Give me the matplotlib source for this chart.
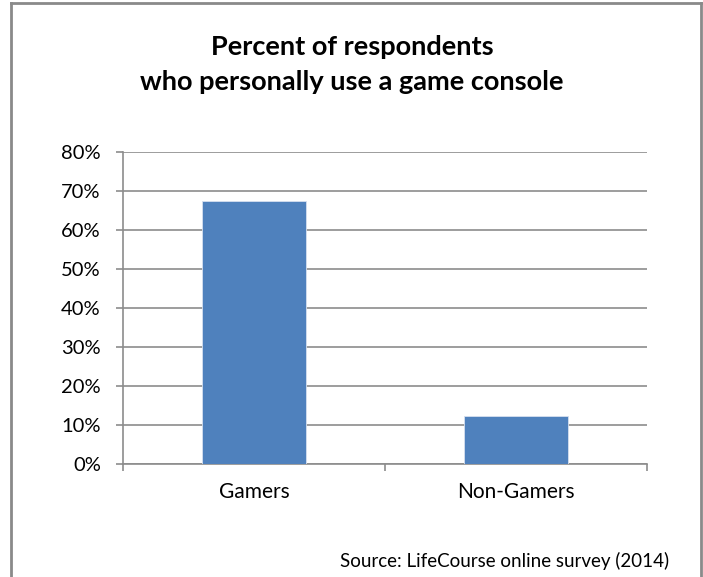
import matplotlib
matplotlib.use("Agg")
import matplotlib.pyplot as plt
from matplotlib.lines import Line2D
from matplotlib.ticker import FuncFormatter, MultipleLocator

categories = ["Gamers", "Non-Gamers"]
percent_use_console = [67.4, 12.3]
title_lines = ["Percent of respondents", "who personally use a game console"]
source_note = "Source: LifeCourse online survey (2014)"

plt.rcParams["font.family"] = ["Lato", "DejaVu Sans"]

W, H = 703, 577
fig = plt.figure(figsize=(W / 100, H / 100), dpi=100)

def fx(px):
    return px / W

def fy(py):
    return 1 - py / H

grid_gray = "#8c8c8c"
bar_blue = "#4f81bd"

ax = fig.add_axes([fx(123), fy(464), fx(647) - fx(123), fy(152) - fy(464)])
x = range(len(categories))
ax.bar(x, percent_use_console, width=0.4, color=bar_blue, edgecolor="#d6e0ef",
       linewidth=0.6, zorder=3)
ax.set_xlim(-0.5, len(categories) - 0.5)
ax.set_ylim(0, 80)
ax.yaxis.set_major_locator(MultipleLocator(10))
ax.yaxis.set_major_formatter(FuncFormatter(lambda v, _: f"{v:.0f}%"))
ax.grid(axis="y", color=grid_gray, linewidth=1.2, zorder=0)
ax.set_axisbelow(True)

for side in ("top", "right"):
    ax.spines[side].set_visible(False)
for side in ("left", "bottom"):
    ax.spines[side].set_color(grid_gray)
    ax.spines[side].set_linewidth(1.2)

ax.set_xticks(list(x))
ax.set_xticklabels(categories, fontsize=15)
ax.tick_params(axis="x", length=0, pad=13)
ax.set_xticks([-0.5, 0.5, 1.5], minor=True)
ax.tick_params(axis="x", which="minor", length=5, width=1.2, color=grid_gray)
ax.tick_params(axis="y", length=5, width=1.2, color=grid_gray, labelsize=14.5, pad=11)

fig.text(fx(352), fy(47), title_lines[0], ha="center", va="center",
         fontsize=19.5, fontweight="bold")
fig.text(fx(352), fy(82), title_lines[1], ha="center", va="center",
         fontsize=19.5, fontweight="bold")
fig.text(fx(669), fy(561), source_note, ha="right", va="center", fontsize=13.5)

# chart frame: left, top and right edges
frame_kw = dict(color="#8a8a8a", linewidth=2, transform=fig.transFigure)
fig.add_artist(Line2D([fx(11), fx(11)], [0, fy(3)], **frame_kw))
fig.add_artist(Line2D([fx(11), fx(701)], [fy(3), fy(3)], **frame_kw))
fig.add_artist(Line2D([fx(701), fx(701)], [fy(3), 0], **frame_kw))

fig.savefig("out.png", dpi=100)
